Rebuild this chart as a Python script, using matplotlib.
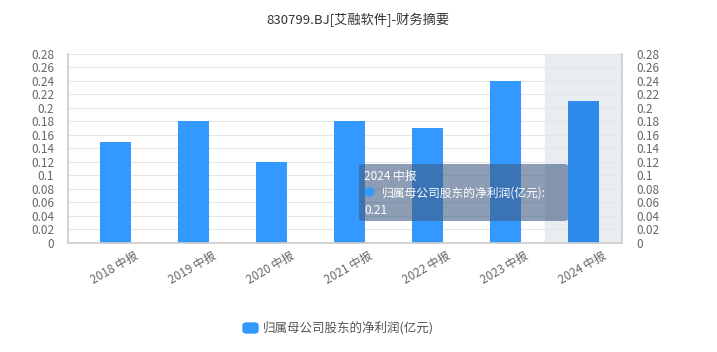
import matplotlib
matplotlib.use('Agg')
import matplotlib.pyplot as plt
from matplotlib.patches import FancyBboxPatch
from matplotlib.transforms import ScaledTranslation

plt.rcParams['font.family'] = ['Noto Sans CJK SC', 'DejaVu Sans']

title = '830799.BJ[艾融软件]-财务摘要'
series_name = '归属母公司股东的净利润(亿元)'
categories = ['2018 中报', '2019 中报', '2020 中报', '2021 中报', '2022 中报', '2023 中报', '2024 中报']
profit = [0.15, 0.18, 0.12, 0.18, 0.17, 0.24, 0.21]
y_ticks = [0, 0.02, 0.04, 0.06, 0.08, 0.1, 0.12, 0.14, 0.16, 0.18, 0.2, 0.22, 0.24, 0.26, 0.28]
y_tick_labels = ['0', '0.02', '0.04', '0.06', '0.08', '0.1', '0.12', '0.14', '0.16', '0.18',
                 '0.2', '0.22', '0.24', '0.26', '0.28']
highlight = 6  # 2024 中报

W, H = 717, 352
fig = plt.figure(figsize=(W / 100, H / 100), dpi=100)
ax = fig.add_axes([68 / W, (H - 242.5) / H, (622 - 68) / W, (242.5 - 54) / H])

bar_color = '#3398ff'
x = list(range(len(categories)))
colors = [bar_color] * len(categories)
colors[highlight] = '#2d8ceb'

# подсветка выбранной категории
ax.axvspan(highlight - 0.5, highlight + 0.5, color='#e9ecf1', zorder=0)
ax.bar(x, profit, width=0.4, color=colors, zorder=2)

ax.set_xlim(-0.61, 6.49)
ax.set_ylim(0, 0.28)
ax.set_yticks(y_ticks)
ax.set_yticklabels(y_tick_labels)
ax.set_xticks(x)
ax.set_xticklabels(categories, rotation=30, ha='right', rotation_mode='anchor')
ax.grid(axis='y', color='#e6e6e6', linewidth=0.8, zorder=1)
ax.tick_params(axis='both', length=0, colors='#666666', labelsize=8.5)
ax.tick_params(axis='x', pad=9)
ax.tick_params(axis='y', pad=10)
# сдвигаем подписи категорий как в оригинале
shift = ScaledTranslation(18 / 100, 6 / 100, fig.dpi_scale_trans)
for lbl in ax.get_xticklabels():
    lbl.set_transform(lbl.get_transform() + shift)
ax.spines['top'].set_visible(False)
for s in ['left', 'right', 'bottom']:
    ax.spines[s].set_color('#cccccc')
    ax.spines[s].set_linewidth(1.2)

# правая ось с теми же делениями
ax2 = ax.twinx()
ax2.set_ylim(0, 0.28)
ax2.set_yticks(y_ticks)
ax2.set_yticklabels(y_tick_labels)
ax2.tick_params(axis='y', length=0, colors='#666666', labelsize=8.5, pad=10)
for s in ax2.spines.values():
    s.set_visible(False)

fig.text(358 / W, 1 - 20 / H, title, ha='center', va='center', fontsize=9.5, color='#333333')

# легенда
fig.patches.append(FancyBboxPatch((243 / W, 1 - 333 / H), 15 / W, 10 / H,
                                  boxstyle='round,pad=0,rounding_size=0.006',
                                  transform=fig.transFigure, color=bar_color))
fig.text(263 / W, 1 - 327.5 / H, series_name, ha='left', va='center', fontsize=9, color='#555555')

# всплывающая подсказка
fig.patches.append(FancyBboxPatch((359 / W, 1 - 221 / H), 209 / W, 57 / H,
                                  boxstyle='round,pad=0,rounding_size=0.006',
                                  transform=fig.transFigure, facecolor=(0.25, 0.36, 0.51, 0.6),
                                  edgecolor='none', zorder=5))
fig.text(364 / W, 1 - 176 / H, categories[highlight], ha='left', va='center', fontsize=8.5,
         color='white', zorder=6)
fig.text(364 / W, 1 - 193 / H, '●', ha='left', va='center', fontsize=8, color=bar_color, zorder=6)
fig.text(382 / W, 1 - 193 / H, series_name + ':', ha='left', va='center', fontsize=8.5,
         color='white', zorder=6)
fig.text(364 / W, 1 - 210 / H, str(profit[highlight]), ha='left', va='center', fontsize=8.5,
         color='white', zorder=6)

fig.savefig('out.png', dpi=100)
